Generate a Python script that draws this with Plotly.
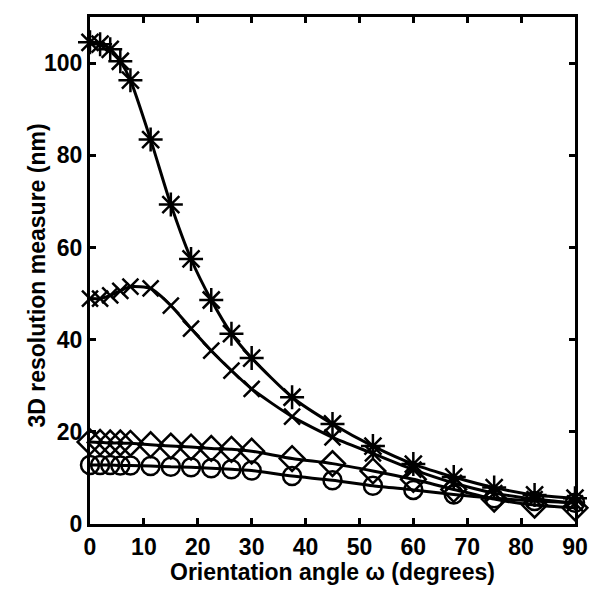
import plotly.graph_objects as go

angles = [0, 1.875, 3.75, 5.625, 7.5, 11.25, 15, 18.75, 22.5, 26.25, 30,
          37.5, 45, 52.5, 60, 67.5, 75, 82.5, 90]

star_vals = [104.5, 104.1, 103.0, 100.4, 96.3, 83.4, 69.3, 57.5, 48.6, 41.3,
             36.0, 27.5, 21.7, 16.9, 13.0, 10.2, 7.9, 6.3, 5.6]

x_vals = [48.9, 48.9, 49.6, 50.6, 51.5, 51.1, 47.4, 42.4, 37.6, 33.3, 29.3,
          23.3, 18.8, 15.3, 11.8, 8.9, 6.7, 5.4, 4.5]

diamond_vals = [17.8, 17.7, 17.6, 17.6, 17.5, 17.2, 16.9, 16.7, 16.4, 16.2, 15.8,
                14.2, 13.1, 11.5, 9.7, 7.5, 5.4, 4.1, 3.5]

circle_vals = [12.8, 12.8, 12.8, 12.7, 12.7, 12.6, 12.4, 12.3, 12.1, 11.9, 11.6,
               10.4, 9.5, 8.3, 7.4, 6.4, 5.6, 5.0, 4.6]

x_ticks = [0, 10, 20, 30, 40, 50, 60, 70, 80, 90]
y_ticks = [0, 20, 40, 60, 80, 100]

x_title = "Orientation angle ω (degrees)"
y_title = "3D resolution measure (nm)"

fig = go.Figure()

def add(xs, ys, symbol, size):
    fig.add_trace(go.Scatter(
        x=xs, y=ys, mode="lines+markers",
        line=dict(color="black", width=3, shape="spline", smoothing=0.6),
        marker=dict(symbol=symbol, size=size, color="black",
                    line=dict(color="black", width=2.5)),
        cliponaxis=False, showlegend=False))

add(angles, star_vals, "asterisk-open", 20)
add(angles, x_vals, "x-thin-open", 16)
add(angles, diamond_vals, "diamond-open", 19)
add(angles, circle_vals, "circle-open", 18)

FAM = "Liberation Sans, Arial, sans-serif"
tick_font = dict(family=FAM, size=23, color="black", weight="bold")
title_font = dict(family=FAM, size=23, color="black", weight="bold")

fig.update_layout(
    width=601, height=597,
    margin=dict(l=82, r=34, t=6, b=81),
    plot_bgcolor="white", paper_bgcolor="white",
    font=dict(family=FAM, color="black"),
    annotations=[
        dict(text=x_title, xref="paper", yref="paper", x=0.5, y=0,
             xanchor="center", yanchor="middle", yshift=-48,
             showarrow=False, font=title_font),
        dict(text=y_title, xref="paper", yref="paper", x=0, y=0.49,
             xanchor="center", yanchor="middle", xshift=-53, textangle=-90,
             showarrow=False, font=title_font),
    ],
)

fig.update_xaxes(
    range=[0, 90], tickvals=x_ticks, ticktext=[str(v) for v in x_ticks],
    showline=True, linecolor="black", linewidth=3, mirror="ticks",
    ticks="inside", ticklen=6, tickwidth=3, tickcolor="black",
    showgrid=False, zeroline=False, tickfont=tick_font,
)
fig.update_yaxes(
    range=[0, 110], tickvals=y_ticks, ticktext=[str(v) for v in y_ticks],
    showline=True, linecolor="black", linewidth=3, mirror="ticks",
    ticks="inside", ticklen=6, tickwidth=3, tickcolor="black",
    showgrid=False, zeroline=False, tickfont=tick_font,
)

fig.write_html("out.html")
